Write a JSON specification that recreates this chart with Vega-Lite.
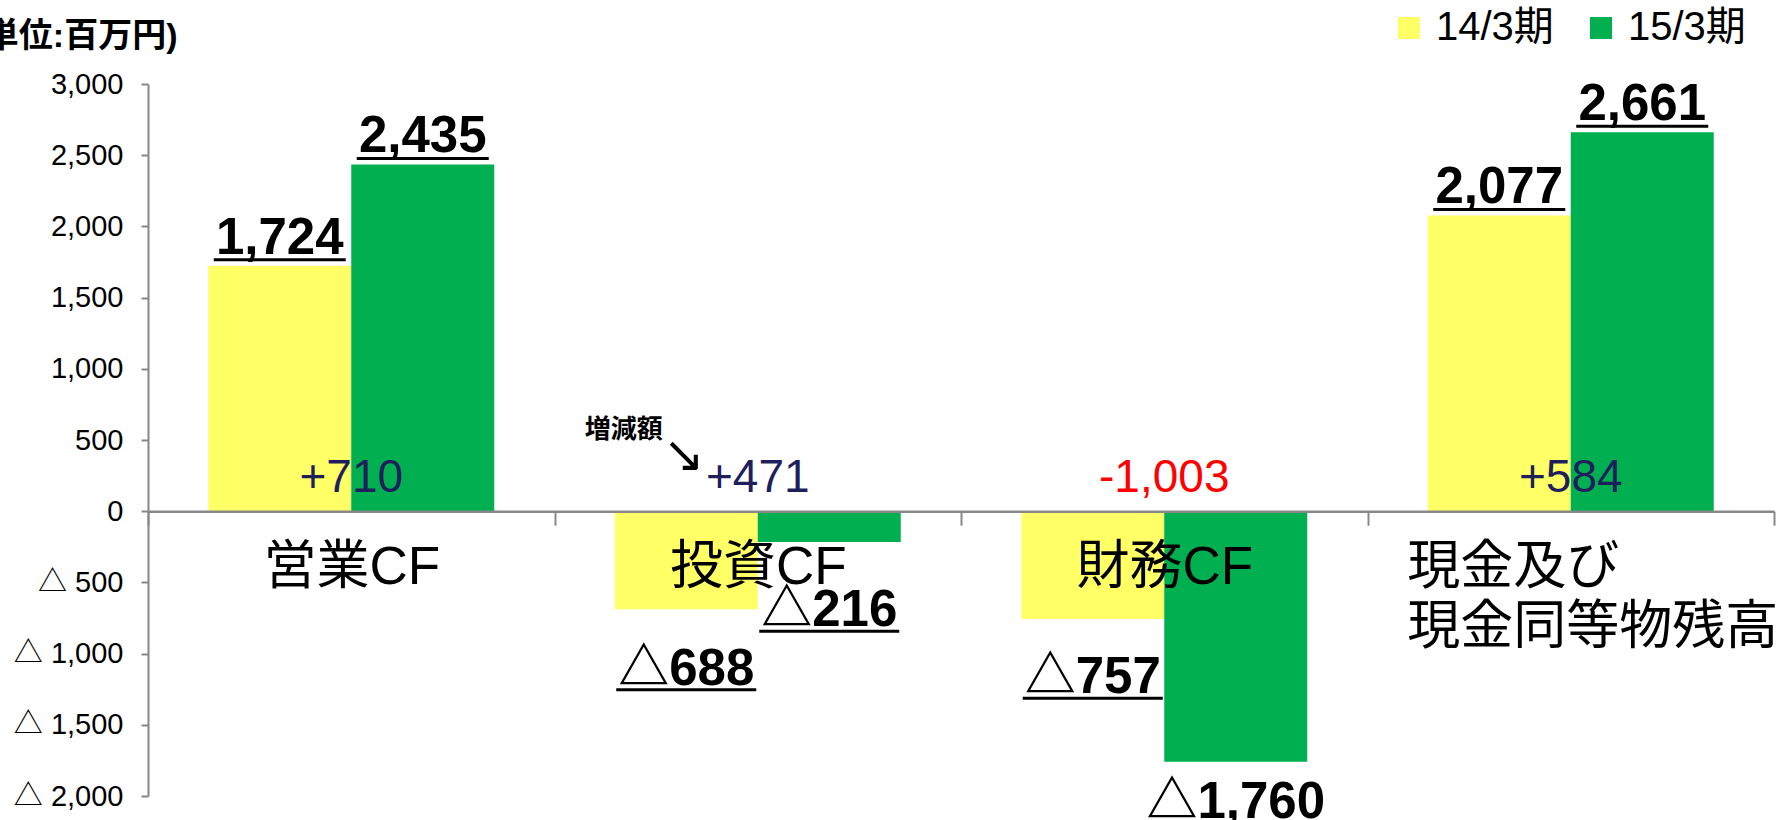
{
  "$schema": "https://vega.github.io/schema/vega-lite/v6.json",
  "autosize": {"type": "none"},
  "padding": {"left": 148, "top": 84, "right": 17, "bottom": 24},
  "width": 1626,
  "height": 712,
  "background": "white",
  "config": {"view": {"stroke": null}, "font": "Liberation Sans, Noto Sans CJK JP"},
  "datasets": {
    "cf": [
      {"cat": "営業CF", "period": "14/3期", "value": 1724},
      {"cat": "営業CF", "period": "15/3期", "value": 2435},
      {"cat": "投資CF", "period": "14/3期", "value": -688},
      {"cat": "投資CF", "period": "15/3期", "value": -216},
      {"cat": "財務CF", "period": "14/3期", "value": -757},
      {"cat": "財務CF", "period": "15/3期", "value": -1760},
      {"cat": "現金及び現金同等物残高", "period": "14/3期", "value": 2077},
      {"cat": "現金及び現金同等物残高", "period": "15/3期", "value": 2661}
    ],
    "delta": [
      {"cat": "営業CF", "delta": 710},
      {"cat": "投資CF", "delta": 471},
      {"cat": "財務CF", "delta": -1003},
      {"cat": "現金及び現金同等物残高", "delta": 584}
    ],
    "note": [{"cat": "投資CF", "note": "増減額", "arrow": "↘"}]
  },
  "resolve": {"scale": {"y": "independent"}},
  "layer": [
    {
      "layer": [
        {
          "data": {"name": "cf"},
          "mark": {"type": "bar"},
          "encoding": {
            "x": {
              "field": "cat", "type": "nominal",
              "sort": ["営業CF", "投資CF", "財務CF", "現金及び現金同等物残高"],
              "scale": {"paddingInner": 0, "paddingOuter": 0},
              "axis": {
                "title": null, "orient": "bottom", "offset": -284.8,
                "tickBand": "extent", "tickSize": 14, "tickWidth": 2, "tickColor": "#888888",
                "domainColor": "#888888", "domainWidth": 2.5,
                "labelAngle": 0, "labelFontSize": 53, "labelColor": "black",
                "labelFont": "Liberation Sans, Noto Sans CJK JP",
                "labelPadding": 16, "labelBaseline": "top", "labelLineHeight": 60,
                "labelLimit": 0, "labelOverlap": false,
                "labelAlign": {"condition": {"test": "datum.value == '現金及び現金同等物残高'", "value": "left"}, "value": "center"},
                "labelOffset": {"condition": {"test": "datum.value == '現金及び現金同等物残高'", "value": -164}, "value": 0},
                "labelExpr": "datum.value == '現金及び現金同等物残高' ? ['現金及び', '現金同等物残高'] : datum.label",
                "zindex": 1
              }
            },
            "xOffset": {"field": "period", "type": "nominal", "scale": {"paddingInner": 0, "paddingOuter": 0.4214}},
            "y": {
              "field": "value", "type": "quantitative",
              "scale": {"domain": [-2000, 3000], "nice": false, "zero": false},
              "axis": {
                "title": "(単位:百万円)", "titleAngle": 0, "titleAlign": "right", "titleBaseline": "alphabetic",
                "titleX": 29, "titleY": -38, "titleFontSize": 34, "titleFontWeight": "bold",
                "titleFont": "Liberation Sans, Noto Sans CJK JP", "titleColor": "black",
                "values": [-2000, -1500, -1000, -500, 0, 500, 1000, 1500, 2000, 2500, 3000],
                "labelExpr": "datum.value < 0 ? '△ ' + format(-datum.value, ',') : format(datum.value, ',')",
                "labelFontSize": 29, "labelColor": "black", "labelPadding": 18,
                "labelFont": "Liberation Sans, Noto Sans CJK JP",
                "tickSize": 7, "tickWidth": 2, "tickColor": "#888888",
                "domainColor": "#888888", "domainWidth": 2, "grid": false, "labelOverlap": false
              }
            },
            "color": {
              "field": "period", "type": "nominal",
              "scale": {"domain": ["14/3期", "15/3期"], "range": ["#FFFF66", "#00B050"]},
              "legend": {
                "title": null, "orient": "none", "legendX": 1241, "legendY": -76,
                "direction": "horizontal", "symbolType": "square", "symbolSize": 484,
                "symbolStrokeWidth": 0, "labelFontSize": 40, "labelColor": "black",
                "labelFont": "Liberation Sans, Noto Sans CJK JP",
                "labelOffset": 7, "columnPadding": 27, "padding": 0, "symbolOffset": 0
              }
            }
          }
        },
        {
          "data": {"name": "cf"},
          "transform": [{"filter": "datum.value > 0"}, {"calculate": "format(datum.value, ',')", "as": "lbl"}],
          "mark": {"type": "text", "baseline": "alphabetic", "dy": -12, "fontSize": 51, "fontWeight": "bold", "color": "black"},
          "encoding": {
            "x": {"field": "cat", "type": "nominal", "sort": ["営業CF", "投資CF", "財務CF", "現金及び現金同等物残高"]},
            "xOffset": {"field": "period", "type": "nominal"},
            "y": {"field": "value", "type": "quantitative"},
            "text": {"field": "lbl"}
          }
        },
        {
          "data": {"name": "cf"},
          "transform": [{"filter": "datum.value > 0"}],
          "mark": {"type": "tick", "size": 132, "thickness": 3, "color": "black", "opacity": 1, "yOffset": -6},
          "encoding": {
            "x": {"field": "cat", "type": "nominal", "sort": ["営業CF", "投資CF", "財務CF", "現金及び現金同等物残高"]},
            "xOffset": {"field": "period", "type": "nominal"},
            "y": {"field": "value", "type": "quantitative"}
          }
        },
        {
          "data": {"name": "delta"},
          "transform": [{"calculate": "(datum.delta > 0 ? '+' : '-') + format(abs(datum.delta), ',')", "as": "lbl"}],
          "mark": {"type": "text", "baseline": "alphabetic", "dy": -19.5, "fontSize": 46},
          "encoding": {
            "x": {"field": "cat", "type": "nominal", "sort": ["営業CF", "投資CF", "財務CF", "現金及び現金同等物残高"]},
            "y": {"datum": 0, "type": "quantitative"},
            "text": {"field": "lbl"},
            "color": {"condition": {"test": "datum.delta < 0", "value": "#FF0000"}, "value": "#1F1F5C"}
          }
        },
        {
          "data": {"name": "note"},
          "mark": {"type": "text", "baseline": "middle", "dx": -134, "dy": -81, "fontSize": 26, "fontWeight": "bold", "color": "black", "font": "Noto Sans CJK JP"},
          "encoding": {
            "x": {"field": "cat", "type": "nominal", "sort": ["営業CF", "投資CF", "財務CF", "現金及び現金同等物残高"]},
            "y": {"datum": 0, "type": "quantitative"},
            "text": {"field": "note"}
          }
        },
        {
          "data": {"name": "note"},
          "mark": {"type": "text", "baseline": "middle", "dx": -74, "dy": -55, "fontSize": 50, "color": "black", "font": "DejaVu Sans"},
          "encoding": {
            "x": {"field": "cat", "type": "nominal", "sort": ["営業CF", "投資CF", "財務CF", "現金及び現金同等物残高"]},
            "y": {"datum": 0, "type": "quantitative"},
            "text": {"field": "arrow"}
          }
        }
      ]
    },
    {
      "data": {"name": "cf"},
      "transform": [{"filter": "datum.value < 0"}, {"calculate": "'△' + format(-datum.value, ',')", "as": "lbl"}],
      "encoding": {
        "x": {"field": "cat", "type": "nominal", "sort": ["営業CF", "投資CF", "財務CF", "現金及び現金同等物残高"]},
        "xOffset": {"field": "period", "type": "nominal"},
        "y": {"field": "value", "type": "quantitative", "scale": {"domain": [-1586.0, 4160.6], "nice": false, "zero": false}, "axis": null}
      },
      "layer": [
        {
          "mark": {"type": "text", "baseline": "alphabetic", "fontSize": 51, "fontWeight": "bold", "color": "black"},
          "encoding": {"text": {"field": "lbl"}}
        },
        {
          "mark": {"type": "tick", "size": 140, "thickness": 3, "color": "black", "opacity": 1, "yOffset": 5}
        }
      ]
    }
  ]
}
